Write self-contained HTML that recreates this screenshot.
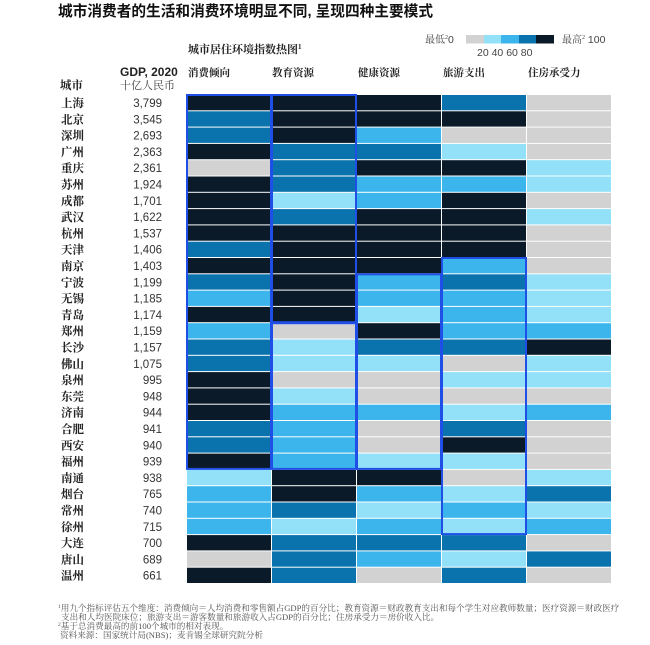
<!DOCTYPE html>
<html><head><meta charset="utf-8"><style>
html,body{margin:0;padding:0;background:#fff;}
svg{display:block}
.cn{font-family:"Liberation Serif","Noto Serif CJK SC",serif;}
.sn{font-family:"Liberation Sans","Noto Sans CJK SC",sans-serif;}
</style></head><body>
<svg width="650" height="645" viewBox="0 0 650 645" xmlns="http://www.w3.org/2000/svg">
<rect width="650" height="645" fill="#fff"/>
<text x="58" y="16" class="sn" font-size="15" font-weight="bold" fill="#111" textLength="375" lengthAdjust="spacingAndGlyphs">城市消费者的生活和消费环境明显不同, 呈现四种主要模式</text>
<text x="188" y="53" class="cn" font-size="11" font-weight="bold" fill="#222">城市居住环境指数热图<tspan font-size="7" dy="-4">1</tspan></text>
<text x="425" y="43" class="cn" font-size="10" fill="#444">最低<tspan font-size="6" dy="-4">2</tspan><tspan class="sn" dy="4" font-size="10.5">0</tspan></text>
<rect x="466" y="35" width="18" height="8.5" fill="#d2d2d2"/>
<rect x="484" y="35" width="17" height="8.5" fill="#92e1f8"/>
<rect x="501" y="35" width="18" height="8.5" fill="#3bb5ec"/>
<rect x="519" y="35" width="17" height="8.5" fill="#0a73ad"/>
<rect x="536" y="35" width="18" height="8.5" fill="#0b1a28"/>
<text x="562" y="43" class="cn" font-size="10" fill="#444">最高<tspan font-size="6" dy="-4">2</tspan><tspan class="sn" dy="4" font-size="10.5"> 100</tspan></text>
<text x="477" y="56" class="sn" font-size="10.5" fill="#444">20 40 60 80</text>
<g class="cn" font-size="10.5" font-weight="bold" fill="#222">
<text x="188" y="76">消费倾向</text><text x="272" y="76">教育资源</text><text x="358" y="76">健康资源</text><text x="443" y="76">旅游支出</text><text x="528" y="76">住房承受力</text>
</g>
<text x="120" y="76" class="sn" font-size="12" font-weight="bold" fill="#222">GDP, 2020</text>
<text x="120" y="89" class="cn" font-size="11" fill="#444">十亿人民币</text>
<text x="60" y="89" class="cn" font-size="11.5" font-weight="bold" fill="#222">城市</text>
<g id="cells"></g>
<g id="labels"></g>
<g id="outl" fill="none" stroke="#1f4fe6" stroke-width="2"></g>
<g class="cn" font-size="8.6" fill="#555">
<text x="58" y="611"><tspan font-size="5.5" dy="-3">1</tspan><tspan dy="3">用九个指标评估五个维度：消费倾向＝人均消费和零售额占GDP的百分比；教育资源＝财政教育支出和每个学生对应教师数量；医疗资源＝财政医疗</tspan></text>
<text x="61" y="620">支出和人均医院床位；旅游支出＝游客数量和旅游收入占GDP的百分比；住房承受力＝房价收入比。</text>
<text x="58" y="629"><tspan font-size="5.5" dy="-3">2</tspan><tspan dy="3">基于总消费最高的前100个城市的相对表现。</tspan></text>
<text x="60" y="638">资料来源：国家统计局(NBS)；麦肯锡全球研究院分析</text>
</g>
</svg>
<script>
var rows=["DDDMG","MDDDG","MDBGG","DMMLG","GMDDL","DMBBL","DLBDG","DMDDL","DDDDG","MDDDG","DDDBG","MDBML","BDBBL","DDLBL","BGDBB","MLMMD","MLLGL","DGGLL","DLGGG","DBBLB","MBGMG","MBGDG","DBLLG","LDDGL","BDBLM","BMLBL","BLBLB","DMMMG","GMBLM","DMGMG"];
var cities=["上海","北京","深圳","广州","重庆","苏州","成都","武汉","杭州","天津","南京","宁波","无锡","青岛","郑州","长沙","佛山","泉州","东莞","济南","合肥","西安","福州","南通","烟台","常州","徐州","大连","唐山","温州"];
var gdp=["3,799","3,545","2,693","2,363","2,361","1,924","1,701","1,622","1,537","1,406","1,403","1,199","1,185","1,174","1,159","1,157","1,075","995","948","944","941","940","939","938","765","740","715","700","689","661"];
var col={D:"#0b1a28",M:"#0a73ad",B:"#3bb5ec",L:"#92e1f8",G:"#d2d2d2"};
var X0=187,W=85,Y0=95,H=16.3,NS="http://www.w3.org/2000/svg";
function el(t,a,p,txt){var e=document.createElementNS(NS,t);for(var k in a)e.setAttribute(k,a[k]);if(txt)e.textContent=txt;p.appendChild(e);return e;}
var cg=document.getElementById("cells"),lg=document.getElementById("labels"),og=document.getElementById("outl");
rows.forEach(function(r,i){
 for(var j=0;j<5;j++)el("rect",{x:X0+j*W,y:Y0+i*H,width:W-1,height:H-1,fill:col[r[j]]},cg);
 el("text",{x:61,y:Y0+i*H+12,"class":"cn","font-size":"11.5","font-weight":"bold",fill:"#222"},lg,cities[i]);
 el("text",{x:162,y:Y0+i*H+12,"class":"sn","font-size":"11.5",fill:"#333","text-anchor":"end"},lg,gdp[i]);
});
function box(c0,c1,r0,r1){el("rect",{x:X0+c0*W,y:Y0+r0*H,width:(c1-c0+1)*W-1,height:(r1-r0+1)*H-1},og);}
box(0,0,0,22);box(1,1,0,13);box(1,1,14,22);box(2,2,11,22);box(3,3,10,26);
</script>
</body></html>
